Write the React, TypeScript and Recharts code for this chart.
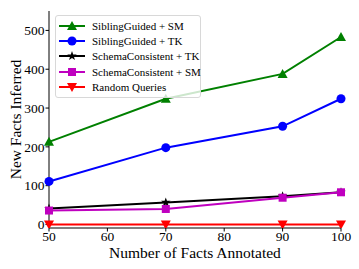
import React from 'react';
import { LineChart, Line, XAxis, YAxis } from 'recharts';

const factsAnnotated = [50, 70, 90, 100];
const siblingGuidedSM = [213, 324, 388, 483];
const siblingGuidedTK = [111, 198, 253, 324];
const schemaConsistentTK = [41, 57, 73, 83];
const schemaConsistentSM = [36, 40, 69, 83];
const randomQueries = [0, 0, 0, 0];
const yTicks = [0, 100, 200, 300, 400, 500];
const xTicks = [50, 60, 70, 80, 90, 100];

const data = factsAnnotated.map((x, i) => ({
  x,
  sgSM: siblingGuidedSM[i],
  sgTK: siblingGuidedTK[i],
  scTK: schemaConsistentTK[i],
  scSM: schemaConsistentSM[i],
  rq: randomQueries[i],
}));

type Shape = 'up' | 'circle' | 'star' | 'square' | 'down';

const series: { key: string; name: string; color: string; shape: Shape }[] = [
  { key: 'sgSM', name: 'SiblingGuided + SM', color: '#008000', shape: 'up' },
  { key: 'sgTK', name: 'SiblingGuided + TK', color: '#0000ff', shape: 'circle' },
  { key: 'scTK', name: 'SchemaConsistent + TK', color: '#000000', shape: 'star' },
  { key: 'scSM', name: 'SchemaConsistent + SM', color: '#bf00bf', shape: 'square' },
  { key: 'rq', name: 'Random Queries', color: '#ff0000', shape: 'down' },
];

const font = 'Liberation Serif, DejaVu Serif, serif';

const Marker = ({ cx, cy, shape, color }: { cx: number; cy: number; shape: Shape; color: string }) => {
  const r = 4.5;
  if (shape === 'circle') return <circle cx={cx} cy={cy} r={r} fill={color} />;
  if (shape === 'square') return <rect x={cx - 4} y={cy - 4} width={8} height={8} fill={color} />;
  if (shape === 'up')
    return <polygon points={`${cx},${cy - 5} ${cx + 5},${cy + 4} ${cx - 5},${cy + 4}`} fill={color} />;
  if (shape === 'down')
    return <polygon points={`${cx},${cy + 5} ${cx + 5},${cy - 4} ${cx - 5},${cy - 4}`} fill={color} />;
  const pts: string[] = [];
  for (let i = 0; i < 10; i++) {
    const rad = i % 2 === 0 ? 5 : 2;
    const a = -Math.PI / 2 + (i * Math.PI) / 5;
    pts.push(`${cx + rad * Math.cos(a)},${cy + rad * Math.sin(a)}`);
  }
  return <polygon points={pts.join(' ')} fill={color} />;
};

const LegendBox = () => (
  <div
    style={{
      position: 'absolute',
      left: 55,
      top: 15,
      width: 137,
      border: '1px solid #d8d8d8',
      borderRadius: 3,
      background: 'rgba(255,255,255,0.8)',
      padding: '2px 4px 2px 3px',
      fontFamily: font,
      fontSize: 11,
      color: '#000',
    }}
  >
    {series.map((s) => (
      <div key={s.key} style={{ display: 'flex', alignItems: 'center', height: 15.4 }}>
        <svg width={26} height={12} style={{ marginRight: 7, flexShrink: 0 }}>
          <line x1={0} y1={6} x2={26} y2={6} stroke={s.color} strokeWidth={2} />
          <Marker cx={13} cy={6} shape={s.shape} color={s.color} />
        </svg>
        <span style={{ whiteSpace: 'nowrap' }}>{s.name}</span>
      </div>
    ))}
  </div>
);

export default function App() {
  const tick = { fill: '#000', fontSize: 13.5, fontFamily: font };
  const labelStyle = { fontSize: 15.5, fontFamily: font, fill: '#000' };
  return (
    <div style={{ position: 'absolute', left: 0, top: 0, width: 359, height: 269, background: '#fff', fontFamily: font }}>
      <LineChart width={359} height={269} data={data} margin={{ top: 11, right: 18, bottom: 0, left: 0 }} style={{ fontFamily: font }}>
        <XAxis
          dataKey="x"
          type="number"
          domain={[50, 100]}
          ticks={xTicks}
          interval={0}
          tick={tick}
          tickSize={3.5}
          tickMargin={0}
          stroke="#000"
          height={41}
          label={{ value: 'Number of Facts Annotated', position: 'insideBottom', offset: 11, style: labelStyle }}
        />
        <XAxis xAxisId="top" orientation="top" dataKey="x" type="number" domain={[50, 100]} tick={false} tickLine={false} height={0} stroke="#555" />
        <YAxis
          type="number"
          domain={[-9, 550]}
          allowDataOverflow
          ticks={yTicks}
          interval={0}
          tick={tick}
          tickSize={3.5}
          tickMargin={1}
          stroke="#000"
          width={49}
          label={{ value: 'New Facts Inferred', angle: -90, position: 'insideLeft', offset: 15, style: { ...labelStyle, textAnchor: 'middle' } }}
        />
        <YAxis yAxisId="right" orientation="right" domain={[-9, 550]} tick={false} tickLine={false} width={0} stroke="#555" />
        {series.map((s) => (
          <Line
            key={s.key}
            dataKey={s.key}
            name={s.name}
            stroke={s.color}
            strokeWidth={2}
            isAnimationActive={false}
            dot={(p: any) => <Marker key={`${s.key}-${p.index}`} cx={p.cx} cy={p.cy} shape={s.shape} color={s.color} />}
            activeDot={false}
          />
        ))}
      </LineChart>
      <LegendBox />
    </div>
  );
}
